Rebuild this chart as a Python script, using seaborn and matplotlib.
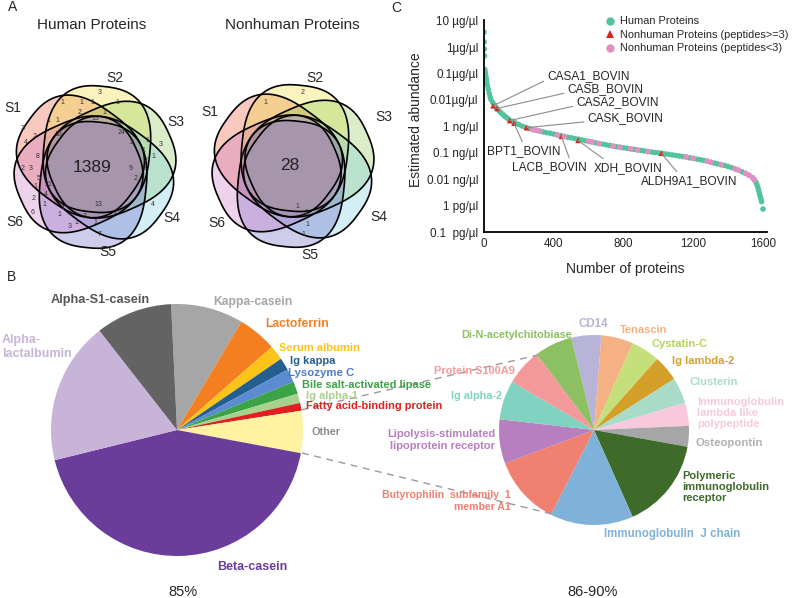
import numpy as np
import pandas as pd
import matplotlib
matplotlib.use('Agg')
import matplotlib.pyplot as plt
from matplotlib.patches import Polygon
import seaborn as sns

sns.set_style('white')
plt.rcParams['font.family'] = ['Liberation Sans', 'DejaVu Sans']

############### data
set_names = ['S1', 'S2', 'S3', 'S4', 'S5', 'S6']
venn_colors = ['#ec4a2c', '#eedc28', '#86c64a', '#70cbe0', '#5a58c0', '#c86cc0']

human_core = '1389'
human_counts = ['3', '1', '1', '1', '1', '1', '2', '13', '2', '1', '1', '3', '2', '16', '24',
                '4', '2', '1', '3', '8', '1', '2', '1', '9', '2', '3', '5', '2', '2', '21',
                '1', '4', '2', '1', '13', '4', '2', '6', '4', '1', '1', '3', '1', '3', '7']
nonhuman_core = '28'
nonhuman_counts = ['2', '1', '1', '1', '1', '1', '1']

# panel C: rank vs abundance level (0 = 0.1 pg/ul ... 8 = 10 ug/ul, one step per tick)
human_rank = [0, 1, 2, 3, 5, 7, 9, 11, 13, 16, 20, 25, 30, 35, 40, 50, 60, 70, 80, 90,
              100, 110, 120, 130, 140, 160, 180, 200, 220, 240, 260, 280, 300, 320, 340, 360, 380, 400,
              420, 440, 460, 480, 500, 520, 540, 560, 580, 600, 620, 640, 660, 680, 700, 720,
              740, 760, 780, 800, 820, 840, 860, 880, 900, 920, 940, 960, 980, 1000, 1020, 1040,
              1060, 1080, 1100, 1120, 1140, 1160, 1180, 1200, 1220, 1240, 1260, 1280, 1300, 1320,
              1340, 1360, 1380, 1400, 1420, 1440, 1460, 1480, 1500, 1520, 1540, 1550, 1560, 1566,
              1572, 1576, 1580, 1584, 1588, 1592, 1600]
human_level = [7.57, 7.20, 6.93, 6.67, 6.15, 6.05, 5.95, 5.85, 5.78, 5.68, 5.55, 5.40, 5.25, 5.12, 5.02, 4.90, 4.80, 4.71, 4.63, 4.56,
               4.50, 4.44, 4.38, 4.33, 4.28, 4.20, 4.13, 4.07, 4.01, 3.96, 3.92, 3.88, 3.85, 3.82, 3.79, 3.76, 3.74, 3.71,
               3.68, 3.65, 3.62, 3.59, 3.57, 3.54, 3.52, 3.49, 3.46, 3.43, 3.41, 3.38, 3.35, 3.33, 3.30, 3.28,
               3.25, 3.23, 3.21, 3.19, 3.17, 3.15, 3.13, 3.11, 3.09, 3.07, 3.05, 3.03, 3.01, 3.00, 2.98, 2.96,
               2.94, 2.92, 2.90, 2.88, 2.86, 2.84, 2.81, 2.79, 2.76, 2.74, 2.71, 2.68, 2.64, 2.61,
               2.58, 2.55, 2.52, 2.48, 2.44, 2.39, 2.34, 2.28, 2.22, 2.15, 2.06, 1.98, 1.88, 1.78,
               1.66, 1.55, 1.45, 1.35, 1.25, 1.15, 0.87]
pink_rank = [280, 300, 320, 420, 460, 600, 620, 660, 740, 780, 840, 880, 940, 1160, 1200, 1280,
             1300, 1360, 1440, 1460, 1500, 1520, 1540, 1550]
pink_level = [3.88, 3.85, 3.82, 3.68, 3.62, 3.43, 3.41, 3.35, 3.25, 3.21, 3.15, 3.11, 3.05, 2.84, 2.79, 2.68,
              2.64, 2.55, 2.39, 2.34, 2.22, 2.15, 2.06, 1.98]
red_names = ['CASA1_BOVIN', 'CASB_BOVIN', 'CASA2_BOVIN', 'BPT1_BOVIN', 'CASK_BOVIN',
             'LACB_BOVIN', 'XDH_BOVIN', 'ALDH9A1_BOVIN']
red_rank = [52, 75, 147, 172, 243, 444, 539, 1017]
red_level = [4.78, 4.68, 4.22, 4.12, 3.95, 3.62, 3.47, 2.98]
ytick_labels = ['0.1  pg/µl', '1 pg/µl', '0.01 ng/µl', '0.1 ng/µl', '1 ng/µl',
                '0.01µg/µl', '0.1µg/µl', '1µg/µl', '10 µg/µl']
xticks = [0, 400, 800, 1200, 1600]

# panel B pies
left_labels = ['Kappa-casein', 'Lactoferrin', 'Serum albumin', 'Ig kappa', 'Lysozyme C',
               'Bile salt-activated lipase', 'Ig alpha-1', 'Fatty acid-binding protein', 'Other',
               'Beta-casein', 'Alpha-\nlactalbumin', 'Alpha-S1-casein']
left_share = [9.3, 5.0, 1.9, 1.6, 1.7, 1.6, 1.2, 1.0, 5.4, 43.2, 18.3, 9.8]
left_colors = ['#a6a6a6', '#f47f20', '#fcc419', '#255e91', '#5b8bd0', '#3aa345',
               '#a9d18e', '#e02020', '#fff2a0', '#6a3d9a', '#c8b4d9', '#636363']
left_text_colors = ['#a6a6a6', '#f47f20', '#fcc419', '#255e91', '#4a7cc8', '#3aa345',
                    '#a9d18e', '#e02020', '#8c8c8c', '#6a3d9a', '#c8b4d9', '#555555']

right_labels = ['CD14', 'Tenascin', 'Cystatin-C', 'Ig lambda-2', 'Clusterin',
                'Immunoglobulin\nlambda like\npolypeptide', 'Osteopontin',
                'Polymeric\nimmunoglobulin\nreceptor', 'Immunoglobulin  J chain',
                'Butyrophilin  subfamily  1\nmember A1', 'Lipolysis-stimulated\nlipoprotein receptor',
                'Ig alpha-2', 'Protein S100A9', 'Di-N-acetylchitobiase']
right_share = [18.4, 19.6, 17.5, 15.9, 15.9, 14.1, 12.7, 55.8, 50.9, 42.6, 27.0, 24.0, 22.4, 23.2]
right_colors = ['#b8b4d8', '#f4b183', '#c5e07a', '#d4a02a', '#a8dcc8', '#f8c8dc', '#a6a6a6',
                '#3f6b2a', '#7fb2d8', '#f08070', '#b87fc0', '#7fd3c0', '#f4999a', '#8cc063']
right_text_colors = ['#b8b4d8', '#f4b183', '#b5d35a', '#d4a02a', '#a8dcc8', '#f8c8dc', '#b0b0b0',
                     '#3f6b2a', '#7fb2d8', '#f08070', '#b87fc0', '#7fd3c0', '#f4999a', '#8cc063']

############### figure
W, H = 792, 598
fig = plt.figure(figsize=(W / 100, H / 100), dpi=100)
ov = fig.add_axes([0, 0, 1, 1])
ov.set_axis_off()


def set_shape(cx, cy, th, d=18, a=63, b=53, n=2.6):
    # rounded, squarish outline for one set, long side pointing outward at angle th
    t = np.linspace(0, 2 * np.pi, 240)
    u = a * np.sign(np.cos(t)) * np.abs(np.cos(t)) ** (2 / n)
    v = b * np.sign(np.sin(t)) * np.abs(np.sin(t)) ** (2 / n)
    r = np.radians(th)
    x = cx + d * np.cos(r) + u * np.cos(r) - v * np.sin(r)
    y = cy - d * np.sin(r) - u * np.sin(r) - v * np.cos(r)
    return np.column_stack([x, y])


def venn(cx, cy, core, counts, pos, label_pos):
    angles = [144, 84, 24, -36, -96, -156]
    for th, col in zip(angles, venn_colors):
        ov.add_patch(Polygon(set_shape(cx, cy, th), facecolor=col, alpha=0.3, edgecolor='none'))
    for th in angles:
        ov.add_patch(Polygon(set_shape(cx, cy, th), facecolor='none', edgecolor='black', lw=1.2))
    ov.text(cx - 3, cy, core, fontsize=12.5, ha='center', va='center', color='#222222')
    for c, (x, y) in zip(counts, pos):
        ov.text(x, y, c, fontsize=5, ha='center', va='center', color='#333333')
    for nme, (x, y) in zip(set_names, label_pos):
        ov.text(x, y, nme, fontsize=10, ha='center', va='center')


human_pos = [(100, 93), (62, 102), (81, 103), (92, 102), (104, 112), (117, 103), (80, 113), (95, 118),
             (118, 122), (48, 120), (57, 120), (23, 128), (35, 136), (58, 135), (122, 133),
             (26, 142), (132, 142), (147, 141), (161, 145), (38, 156), (143, 150), (146, 160),
             (153, 157), (131, 169), (23, 168), (31, 169), (39, 178), (145, 169), (136, 178),
             (49, 185), (35, 187), (46, 194), (34, 198), (44, 205), (98, 205), (153, 205),
             (116, 213), (33, 212), (63, 208), (59, 215), (76, 223), (85, 216), (95, 223),
             (70, 227), (100, 235)]
nonhuman_pos = [(303, 93), (265, 102), (241, 155), (297, 206), (306, 213), (307, 224), (303, 234)]

venn(95, 167, human_core, human_counts, human_pos,
     [(13, 108), (115, 78), (176, 122), (172, 218), (108, 252), (15, 222)])
venn(293, 166, nonhuman_core, nonhuman_counts, nonhuman_pos,
     [(210, 112), (315, 78), (384, 117), (379, 217), (310, 255), (217, 223)])
ov.text(92, 25, 'Human Proteins', fontsize=11, ha='center', va='center')
ov.text(292, 25, 'Nonhuman Proteins', fontsize=11, ha='center', va='center')
ov.text(13, 7, 'A', fontsize=10, ha='center', va='center')
ov.text(12, 277, 'B', fontsize=10, ha='center', va='center')
ov.text(396, 8, 'C', fontsize=10, ha='center', va='center')

# pies (y axis is flipped, so counterclock in data = clockwise on screen)
ov.pie(left_share, colors=left_colors, startangle=-92.7, counterclock=True,
       center=(177, 430), radius=126, wedgeprops=dict(linewidth=0))
ov.pie(right_share, colors=right_colors, startangle=-103.9, counterclock=True,
       center=(594, 430), radius=95, wedgeprops=dict(linewidth=0))

left_txt = [(253, 302, 'center', 8.7), (265, 324, 'left', 8.7), (279, 348, 'left', 8),
            (290, 361, 'left', 8), (288, 373, 'left', 8.2), (302, 385, 'left', 7.9),
            (306, 396, 'left', 7.9), (306, 406, 'left', 7.9), (312, 432, 'left', 7.8),
            (252, 567, 'center', 9), (2, 347, 'left', 9), (100, 300, 'center', 9.2)]
for lab, col, (x, y, ha, fs) in zip(left_labels, left_text_colors, left_txt):
    ov.text(x, y, lab, color=col, fontsize=fs, fontweight='bold', ha=ha, va='center',
            linespacing=1.15)

right_txt = [(593, 324, 'center', 8.3), (620, 330, 'left', 8), (651, 344, 'left', 8),
             (672, 361, 'left', 8), (689, 382, 'left', 8), (697, 413, 'left', 8),
             (695, 443, 'left', 8.2), (682, 487, 'left', 8), (672, 534, 'center', 8.3),
             (511, 501, 'right', 7.6), (495, 440, 'right', 8), (502, 396, 'right', 7.8),
             (515, 371, 'right', 7.9), (572, 335, 'right', 7.8)]
for lab, col, (x, y, ha, fs) in zip(right_labels, right_text_colors, right_txt):
    ov.text(x, y, lab, color=col, fontsize=fs, fontweight='bold', ha=ha, va='center',
            linespacing=1.15, multialignment=ha if ha != 'center' else 'center')

ov.plot([301, 538], [410, 355], ls=(0, (5, 4)), color='#9a9a9a', lw=1)
ov.plot([302, 552], [453, 514], ls=(0, (5, 4)), color='#9a9a9a', lw=1)
ov.text(183, 592, '85%', fontsize=10.5, ha='center', va='center')
ov.text(593, 592, '86-90%', fontsize=10.5, ha='center', va='center')

ov.set_xlim(0, W)
ov.set_ylim(H, 0)
ov.set_aspect('auto')

############### panel C
ax = fig.add_axes([484 / W, 1 - 232 / H, 283 / W, 212 / H])
df = pd.concat([
    pd.DataFrame({'rank': human_rank, 'level': human_level, 'group': 'Human Proteins'}),
    pd.DataFrame({'rank': red_rank, 'level': red_level, 'group': 'Nonhuman Proteins (peptides>=3)'}),
    pd.DataFrame({'rank': pink_rank, 'level': pink_level, 'group': 'Nonhuman Proteins (peptides<3)'}),
])
palette = {'Human Proteins': '#52c39a', 'Nonhuman Proteins (peptides>=3)': '#e0201c',
           'Nonhuman Proteins (peptides<3)': '#e38fc4'}
markers = {'Human Proteins': 'o', 'Nonhuman Proteins (peptides>=3)': '^',
           'Nonhuman Proteins (peptides<3)': 'o'}
sns.scatterplot(data=df, x='rank', y='level', hue='group', style='group', palette=palette,
                markers=markers, s=16, linewidth=0, ax=ax)
ax.set_xlim(0, 1623)
ax.set_ylim(0, 8.03)
ax.set_xticks(xticks)
ax.set_yticks(range(9))
ax.set_yticklabels(ytick_labels)
ax.tick_params(length=0, labelsize=8.4, pad=4)
for s in ['top', 'right']:
    ax.spines[s].set_visible(False)
for s in ['left', 'bottom']:
    ax.spines[s].set_color('black')
    ax.spines[s].set_linewidth(1.3)
ax.set_xlabel('Number of proteins', fontsize=10)
ax.set_ylabel('Estimated abundance', fontsize=10)
ax.xaxis.set_label_coords(0.498, -0.14)
ax.yaxis.set_label_coords(-0.215, 0.53)

handles, labels = ax.get_legend_handles_labels()
ax.legend(handles, labels, loc='upper left', bbox_to_anchor=(599 / W, 1 - 12 / H),
          bbox_transform=fig.transFigure, frameon=False, fontsize=7.9, handletextpad=0.3,
          labelspacing=0.32, borderaxespad=0, handlelength=1.2, markerscale=1.5)

ann_pos = [(547, 76, (0, 0.2)), (567, 89, (0, 0.2)), (576, 102, (0, 0.2)), (487, 151, (0.5, 1)),
           (587, 118, (0, 0.2)), (512, 167, (0.78, 1)), (594, 168, (0.2, 1)), (641, 181, (0.4, 1))]
for name, r, lv, (px, py, rp) in zip(red_names, red_rank, red_level, ann_pos):
    ax.annotate(name, xy=(r, lv), xytext=(px, H - py), textcoords='figure pixels',
                ha='left', va='center', fontsize=8.6,
                arrowprops=dict(arrowstyle='-', color='#8c8c8c', lw=0.8, shrinkA=0, shrinkB=0,
                                relpos=rp))

fig.savefig('out.png', dpi=100)
